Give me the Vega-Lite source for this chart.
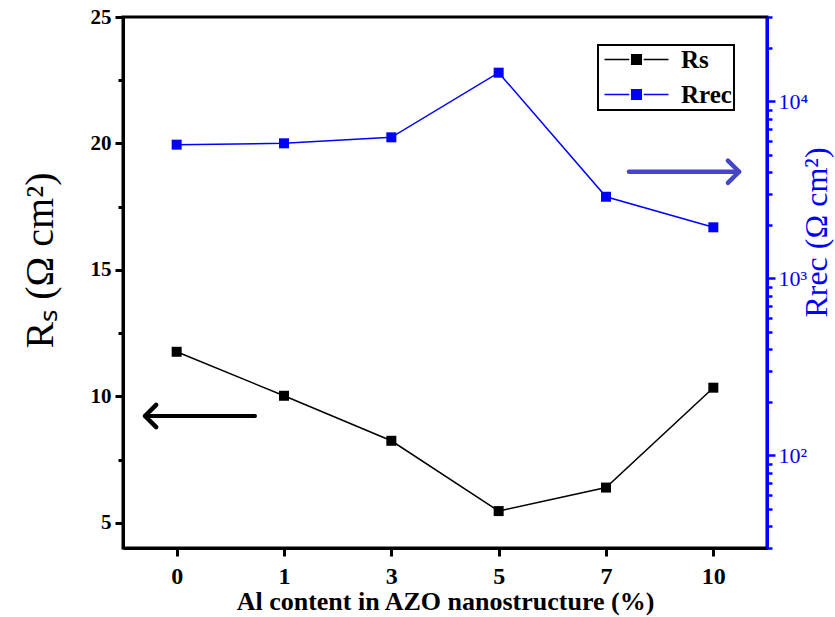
{
  "$schema": "https://vega.github.io/schema/vega-lite/v6.json",
  "width": 644,
  "height": 531,
  "autosize": "none",
  "padding": {"left": 123, "top": 17, "right": 68, "bottom": 69},
  "background": "white",
  "config": {
    "view": {"stroke": "black", "strokeWidth": 3},
    "font": "Liberation Serif, Times New Roman, serif",
    "axis": {"grid": false, "labelFont": "Liberation Serif, Times New Roman, serif", "titleFont": "Liberation Serif, Times New Roman, serif"},
    "style": {"guide-label": {"font": "Liberation Serif, Times New Roman, serif"}, "guide-title": {"font": "Liberation Serif, Times New Roman, serif"}}
  },
  "data": {
    "values": [
      {"idx": 0, "al": "0", "Rs": 11.76, "Rrec": 5700},
      {"idx": 1, "al": "1", "Rs": 10.02, "Rrec": 5800},
      {"idx": 2, "al": "3", "Rs": 8.24, "Rrec": 6270},
      {"idx": 3, "al": "5", "Rs": 5.46, "Rrec": 14540},
      {"idx": 4, "al": "7", "Rs": 6.39, "Rrec": 2895},
      {"idx": 5, "al": "10", "Rs": 10.34, "Rrec": 1945}
    ]
  },
  "layer": [
    {
      "layer": [
        {
          "mark": {"type": "line", "strokeWidth": 1.5},
          "encoding": {
            "x": {
              "field": "idx", "type": "quantitative",
              "scale": {"domain": [-0.5, 5.5], "nice": false, "zero": false},
              "axis": {
                "values": [0, 1, 2, 3, 4, 5],
                "labelExpr": "['0','1','3','5','7','10'][datum.value]",
                "title": "Al content in AZO nanostructure (%)",
                "titleFontSize": 26, "titleFontWeight": "bold", "titlePadding": 0,
                "labelFontSize": 24, "labelFontWeight": "bold", "labelPadding": 8,
                "tickSize": 8, "tickWidth": 3, "tickColor": "black",
                "domainColor": "black", "domainWidth": 3, "labelColor": "black", "titleColor": "black"
              }
            },
            "y": {
              "field": "Rs", "type": "quantitative",
              "scale": {"domain": [4, 25], "nice": false, "zero": false},
              "axis": {
                "values": [5, 7.5, 10, 12.5, 15, 17.5, 20, 22.5, 25],
                "labelExpr": "datum.value % 5 === 0 ? datum.label : ''",
                "tickSize": {"condition": {"test": "datum.value % 5 === 0", "value": 8}, "value": 5},
                "tickWidth": 3, "tickColor": "black",
                "domainColor": "black", "domainWidth": 3,
                "labelFontSize": 21, "labelFontWeight": "bold", "labelColor": "black", "labelPadding": 4,
                "title": "Rₛ (Ω cm²)", "titleFontSize": 40, "titleFontWeight": "normal", "titleColor": "black",
                "titlePadding": 30, "titleY": 243
              }
            },
            "color": {
              "datum": "Rs",
              "scale": {"domain": ["Rs", "Rrec"], "range": ["black", "#0000ff"]},
              "legend": {
                "title": null,
                "orient": "none",
                "legendX": 475,
                "legendY": 28,
                "strokeColor": "black",
                "fillColor": "white",
                "padding": 2,
                "labelFont": "Liberation Serif, Times New Roman, serif",
                "labelFontSize": 25,
                "labelFontWeight": "bold",
                "labelColor": "black",
                "symbolType": "M-1,0L2.1,0M3.9,0L7,0M2.4,-0.6L3.6,-0.6L3.6,0.6L2.4,0.6Z",
                "symbolSize": 256,
                "symbolStrokeWidth": 1.5,
                "labelOffset": 56,
                "rowPadding": 9,
                "encode": {
                  "legend": {"update": {"strokeWidth": {"value": 2}}},
                  "symbols": {
                    "update": {
                      "stroke": {"scale": "color", "field": "value"},
                      "fill": {"scale": "color", "field": "value"},
                      "strokeWidth": {"value": 1.5},
                      "opacity": {"value": 1}
                    }
                  }
                }
              }
            }
          }
        },
        {
          "mark": {"type": "point", "shape": "square", "filled": true, "size": 100, "opacity": 1},
          "encoding": {
            "x": {"field": "idx", "type": "quantitative"},
            "y": {"field": "Rs", "type": "quantitative"},
            "color": {"datum": "Rs"}
          }
        },
        {
          "data": {"values": [{"start": 0.73, "end": -0.295, "level": 9.22}]},
          "mark": {"type": "rule", "color": "black", "strokeWidth": 4, "strokeCap": "round"},
          "encoding": {
            "x": {"field": "start", "type": "quantitative"},
            "x2": {"field": "end"},
            "y": {"field": "level", "type": "quantitative"}
          }
        },
        {
          "data": {"values": [{"end": -0.295, "level": 9.22}]},
          "mark": {"type": "point", "shape": "M1,-1L0,0L1,1", "filled": false, "size": 500, "stroke": "black", "strokeWidth": 4.5, "strokeCap": "round", "strokeJoin": "round", "opacity": 1},
          "encoding": {
            "x": {"field": "end", "type": "quantitative"},
            "y": {"field": "level", "type": "quantitative"}
          }
        },
        {
          "data": {"values": [{"start": 4.214, "end": 5.24, "level": 18.88}]},
          "mark": {"type": "rule", "color": "#4545c5", "strokeWidth": 4.5, "strokeCap": "round"},
          "encoding": {
            "x": {"field": "start", "type": "quantitative"},
            "x2": {"field": "end"},
            "y": {"field": "level", "type": "quantitative"}
          }
        },
        {
          "data": {"values": [{"end": 5.24, "level": 18.88}]},
          "mark": {"type": "point", "shape": "M-1,-1L0,0L-1,1", "filled": false, "size": 500, "stroke": "#4545c5", "strokeWidth": 4.5, "strokeCap": "round", "strokeJoin": "round", "opacity": 1},
          "encoding": {
            "x": {"field": "end", "type": "quantitative"},
            "y": {"field": "level", "type": "quantitative"}
          }
        }
      ]
    },
    {
      "layer": [
        {
          "mark": {"type": "line", "strokeWidth": 1.5},
          "encoding": {
            "x": {"field": "idx", "type": "quantitative"},
            "y": {
              "field": "Rrec", "type": "quantitative",
              "scale": {"type": "log", "domain": [30, 30000], "nice": false},
              "axis": {
                "orient": "right",
                "values": [30, 40, 50, 60, 70, 80, 90, 100, 200, 300, 400, 500, 600, 700, 800, 900, 1000, 2000, 3000, 4000, 5000, 6000, 7000, 8000, 9000, 10000, 20000, 30000],
                "labelExpr": "datum.value == 100 ? '10²' : datum.value == 1000 ? '10³' : datum.value == 10000 ? '10⁴' : ''",
                "tickSize": {"condition": {"test": "datum.value == 100 || datum.value == 1000 || datum.value == 10000", "value": 8}, "value": 5},
                "tickWidth": 2.5, "tickColor": "#0000ff",
                "domainColor": "#0000ff", "domainWidth": 3,
                "labelFontSize": 22, "labelColor": "#0000ff", "labelPadding": 3,
                "title": "Rrec (Ω cm²)", "titleFontSize": 32, "titleFontWeight": "normal", "titleColor": "#0000ff",
                "titleAngle": 270, "titlePadding": 26, "titleY": 215
              }
            },
            "color": {"datum": "Rrec"}
          }
        },
        {
          "mark": {"type": "point", "shape": "square", "filled": true, "size": 100, "opacity": 1},
          "encoding": {
            "x": {"field": "idx", "type": "quantitative"},
            "y": {"field": "Rrec", "type": "quantitative"},
            "color": {"datum": "Rrec"}
          }
        }
      ]
    }
  ],
  "resolve": {"scale": {"y": "independent"}}
}
